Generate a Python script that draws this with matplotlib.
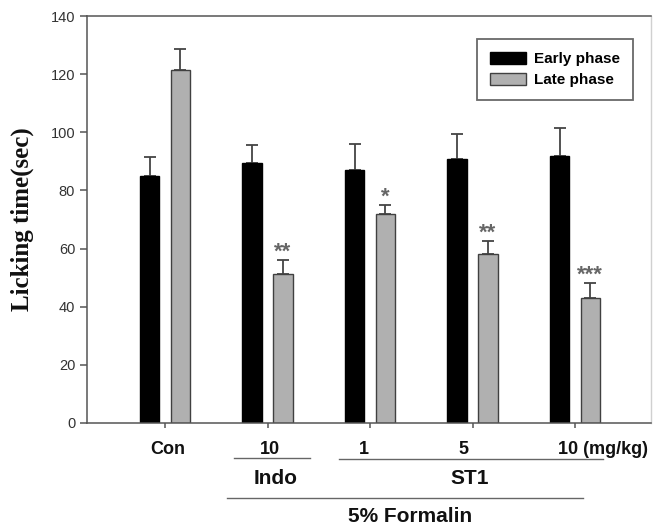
import matplotlib
matplotlib.use("Agg")
import matplotlib.pyplot as plt
from matplotlib.lines import Line2D
import numpy as np

# data
groups = ["Con", "10", "1", "5", "10 (mg/kg)"]
early = [85.0, 89.4, 87.0, 90.7, 92.0]
early_err = [6.5, 6.1, 9.0, 8.8, 9.6]
late = [121.3, 51.1, 71.8, 58.0, 43.1]
late_err = [7.2, 4.9, 3.2, 4.7, 4.9]
stars = ["", "**", "*", "**", "***"]

W, H = 654, 529
fig = plt.figure(figsize=(W / 100, H / 100), dpi=100)
ax = fig.add_axes([87 / W, 1 - 423 / H, 564 / W, 407 / H])


def fx(px):
    return px / W


def fy(py):
    return 1 - py / H


x = np.arange(1, len(groups) + 1)
off, bw = 0.15, 0.19
spine_c = "#555555"

ax.bar(x - off, early, bw, color="black", edgecolor="black", label="Early phase", zorder=2)
ax.bar(x + off, late, bw, color="#b0b0b0", edgecolor="#404040", linewidth=1, label="Late phase", zorder=2)
ax.errorbar(x - off, early, yerr=[np.zeros(len(early)), early_err], fmt="none",
            ecolor="#444444", elinewidth=1.3, capsize=4, capthick=1.3, zorder=1)
ax.errorbar(x + off, late, yerr=[np.zeros(len(late)), late_err], fmt="none",
            ecolor="#444444", elinewidth=1.3, capsize=4, capthick=1.3, zorder=1)

# significance marks above the late-phase bars
for xi, v, e, s in zip(x, late, late_err, stars):
    if s:
        ax.text(xi + off, v + e + 0.8, s, ha="center", va="baseline", fontsize=16,
                color="#666666", family="Liberation Sans", fontweight="bold")

ax.set_xlim(0.239, 5.741)
ax.set_ylim(0, 140)
ax.set_yticks(range(0, 141, 20))
ax.set_xticks(x)
ax.set_xticklabels([])
ax.tick_params(axis="y", direction="out", length=5, width=1.1, colors=spine_c,
               labelsize=10.5, labelcolor="#333333")
ax.tick_params(axis="x", direction="out", length=3.5, width=1.1, colors=spine_c)
for lab in ax.get_yticklabels():
    lab.set_family("Liberation Sans")
for side in ["left", "bottom", "top"]:
    ax.spines[side].set_color(spine_c)
    ax.spines[side].set_linewidth(1.1)
ax.spines["right"].set_color("#d0d0d0")
ax.spines["right"].set_linewidth(1.0)

ax.set_ylabel("Licking time(sec)", fontsize=18, fontweight="bold",
              family="Liberation Serif", labelpad=12, color="#111111")

leg = ax.legend(loc="upper right", bbox_to_anchor=(0.968, 0.9435), fancybox=False,
                prop={"family": "Liberation Sans", "weight": "bold", "size": 11},
                handlelength=2.35, handleheight=0.8, handletextpad=0.55,
                labelspacing=0.45, borderpad=0.85, borderaxespad=0)
leg.get_frame().set_edgecolor("#444444")
leg.get_frame().set_linewidth(1.3)

# group labels under the axis
lab_kw = dict(family="Liberation Sans", fontweight="bold", color="#111111", va="center")
fig.text(fx(167.5), fy(450), "Con", ha="center", fontsize=13, **lab_kw)
fig.text(fx(270), fy(450), "10", ha="center", fontsize=13, **lab_kw)
fig.text(fx(364), fy(450), "1", ha="center", fontsize=13, **lab_kw)
fig.text(fx(463), fy(450), "5", ha="center", fontsize=13, **lab_kw)
fig.text(fx(558), fy(450), "10 (mg/kg)", ha="left", fontsize=13, **lab_kw)
fig.text(fx(275.5), fy(479), "Indo", ha="center", fontsize=15, **lab_kw)
fig.text(fx(470), fy(479), "ST1", ha="center", fontsize=15, **lab_kw)
fig.text(fx(410), fy(516), "5% Formalin", ha="center", fontsize=15, **lab_kw)

for x0, x1, yy in [(234, 310, 457.7), (339, 603, 459.3), (227, 583, 497.7)]:
    fig.add_artist(Line2D([fx(x0), fx(x1)], [fy(yy), fy(yy)], color="#666666", lw=1.0))

fig.savefig("out.png", dpi=100)
